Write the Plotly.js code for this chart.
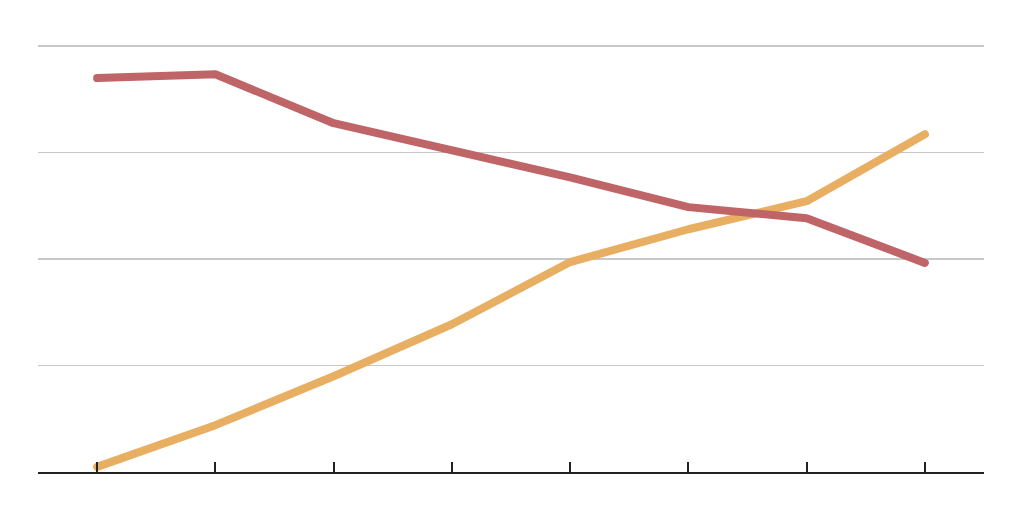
<!DOCTYPE html>
<html><head><meta charset="utf-8">
<script src="https://cdn.plot.ly/plotly-3.0.1.min.js"></script>
<style>html,body{margin:0;padding:0;background:#fff}#c{width:1024px;height:518px}
.scatterlayer path.js-line{stroke-linecap:round;stroke-linejoin:round}</style>
</head><body><div id="c"></div>
<script>
const categories = [0, 1, 2, 3, 4, 5, 6, 7];
const redSeries = [92.5, 93.4, 81.9, 75.6, 69.2, 62.2, 59.6, 49.1];
const orangeSeries = [1.2, 11.0, 22.5, 34.7, 49.3, 57.0, 63.6, 79.3];
const yTicks = [0, 25, 50, 75, 100];

const traces = [
  {x: categories, y: orangeSeries, mode: 'lines', line: {color: '#e8ae62', width: 8}, hoverinfo: 'none'},
  {x: categories, y: redSeries, mode: 'lines', line: {color: '#bf6467', width: 8}, hoverinfo: 'none'}
];
const layout = {
  width: 1024, height: 518,
  margin: {l: 38, r: 40, t: 44, b: 46},
  paper_bgcolor: '#fff', plot_bgcolor: '#fff',
  showlegend: false,
  xaxis: {range: [-0.5, 7.5], tickvals: categories, showticklabels: false, ticks: 'inside', ticklen: 10, tickwidth: 2, tickcolor: '#222', showgrid: false, zeroline: false, showline: true, linecolor: '#222', linewidth: 2, fixedrange: true},
  yaxis: {range: [0, 100.5], tickvals: yTicks, showticklabels: false, ticks: '', showgrid: true, gridcolor: '#c8c8c8', gridwidth: 1.5, zeroline: false, showline: false, fixedrange: true}
};
Plotly.newPlot('c', traces, layout, {staticPlot: true, displayModeBar: false});
</script></body></html>
